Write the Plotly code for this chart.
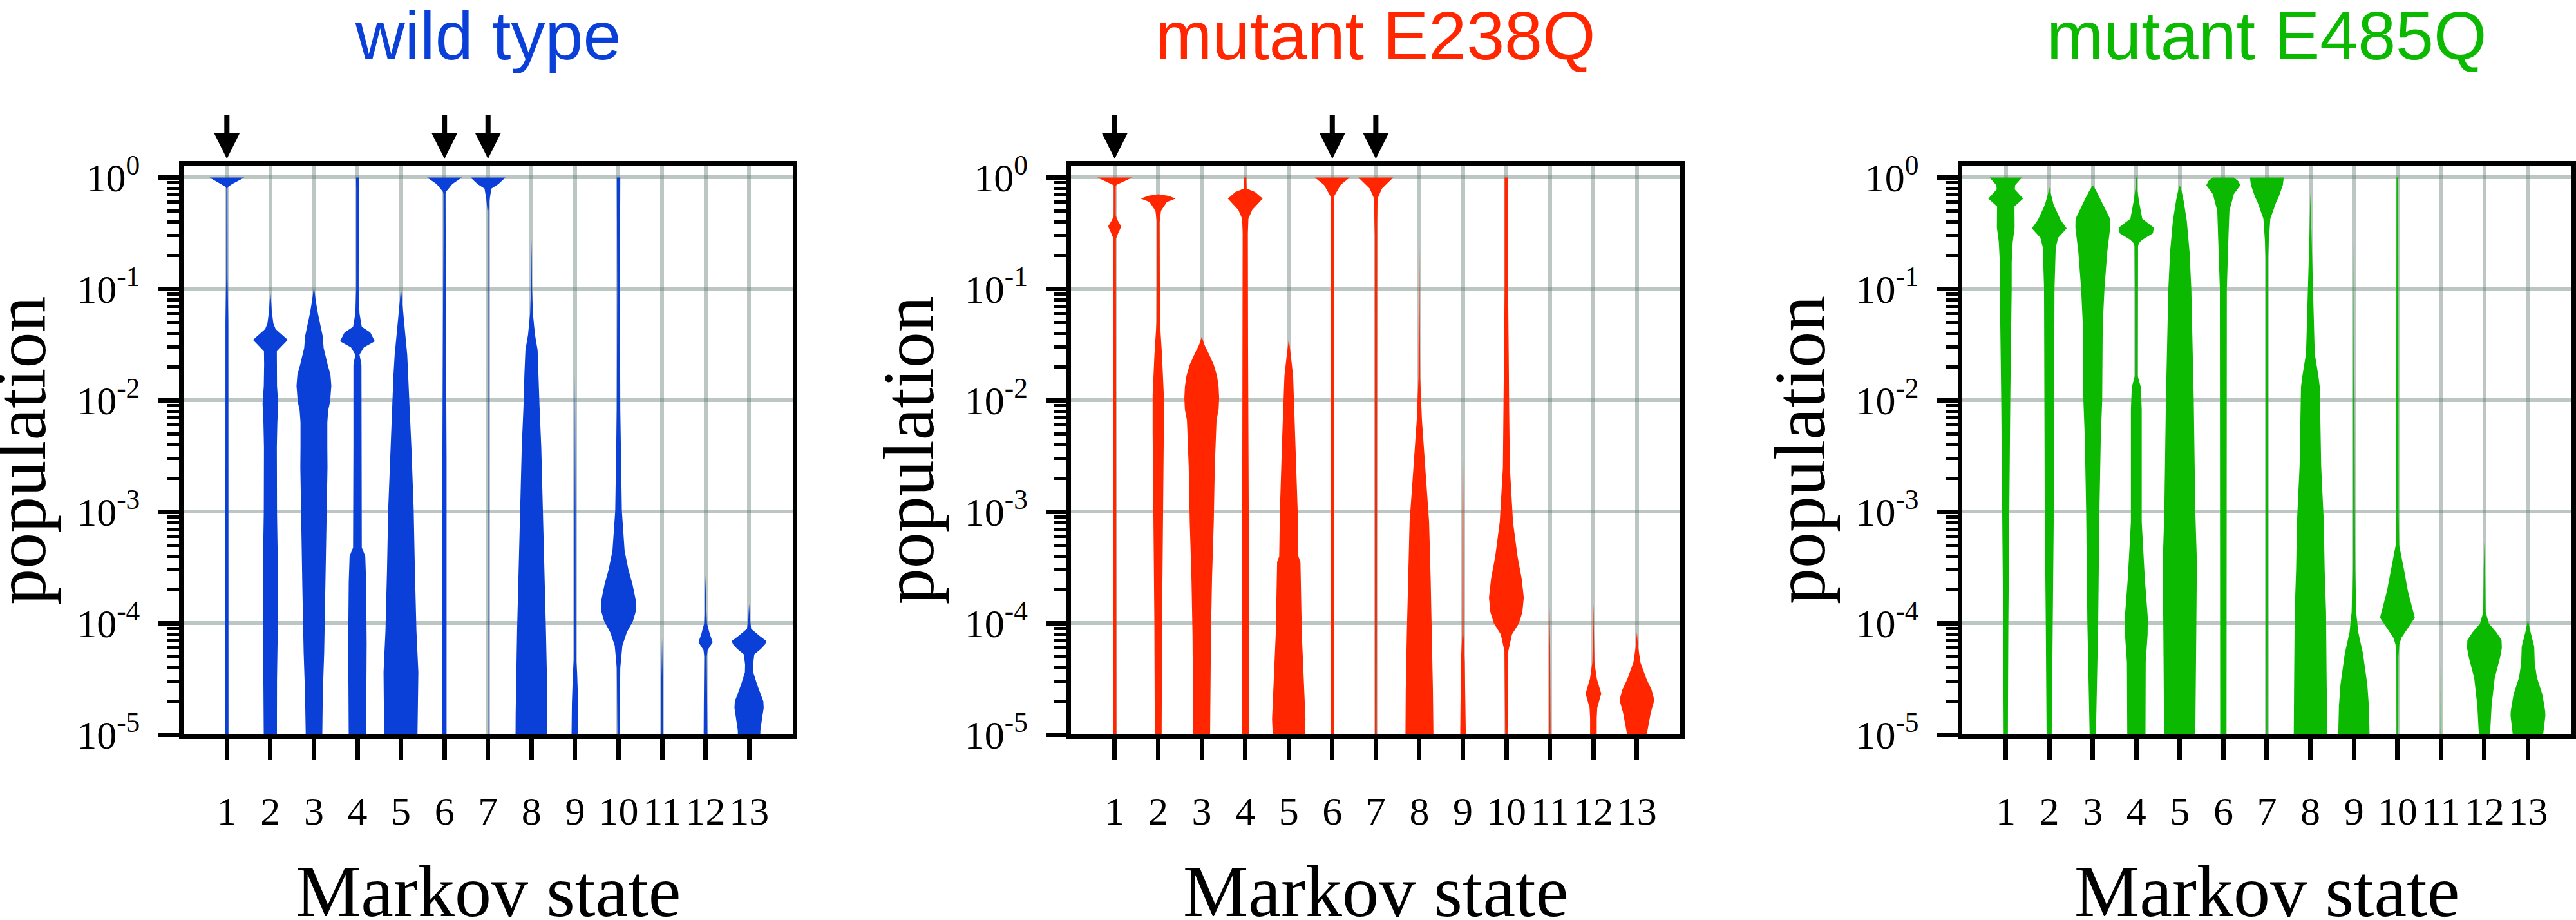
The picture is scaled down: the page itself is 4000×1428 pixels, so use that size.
import plotly.graph_objects as go

# ---------------- data ----------------
states = list(range(1, 14))
state_labels = [str(s) for s in states]
panel_titles = ["wild type", "mutant E238Q", "mutant E485Q"]
panel_colors = ["#0a40d8", "#ff2600", "#0ab900"]
arrow_states = [[1, 6, 7], [1, 6, 7], []]
y_tick_exponents = [0, -1, -2, -3, -4, -5]

# violin outlines:
# each state -> list of (log10 population, relative half-width 0..1), bottom to top
wt_profiles = [
    [(-5.3, 0.09), (-1.3, 0.08), (-0.9, 0.04), (-0.3, 0.03), (-0.1, 0.035), (-0.085, 0.06), (-0.06, 0.3), (-0.03, 0.65), (0, 1.0)],
    [(-5.3, 0.37), (-4.5, 0.38), (-4.1, 0.42), (-3.6, 0.44), (-3.0, 0.38), (-2.42, 0.37), (-2.2, 0.40), (-2.03, 0.45), (-1.87, 0.38), (-1.68, 0.36), (-1.56, 0.37), (-1.457, 1.0), (-1.36, 0.3), (-1.31, 0.17), (-1.2, 0.08), (-1.1, 0.04), (-1.03, 0.0)],
    [(-5.3, 0.46), (-5.0, 0.47), (-4.63, 0.51), (-4.26, 0.59), (-3.71, 0.66), (-3.34, 0.71), (-2.97, 0.74), (-2.6, 0.78), (-2.42, 0.77), (-2.2, 0.77), (-2.09, 0.82), (-2.01, 0.93), (-1.87, 1.0), (-1.77, 0.95), (-1.68, 0.79), (-1.53, 0.56), (-1.42, 0.5), (-1.22, 0.23), (-1.1, 0.1), (-0.98, 0.0)],
    [(-5.3, 0.49), (-4.6, 0.5), (-4.18, 0.53), (-3.63, 0.5), (-3.4, 0.45), (-3.32, 0.25), (-2.4, 0.23), (-1.68, 0.23), (-1.59, 0.12), (-1.525, 0.37), (-1.47, 1.0), (-1.39, 0.74), (-1.34, 0.25), (-1.22, 0.12), (-1.0, 0.07), (-0.1, 0.07), (0, 0.08)],
    [(-5.3, 0.95), (-5.0, 0.95), (-4.44, 1.0), (-4.07, 0.89), (-3.52, 0.8), (-2.97, 0.73), (-2.42, 0.6), (-2.05, 0.5), (-1.77, 0.43), (-1.59, 0.36), (-1.41, 0.25), (-1.22, 0.14), (-1.1, 0.06), (-0.99, 0.0)],
    [(-5.3, 0.12), (-2.5, 0.12), (-1.5, 0.09), (-0.5, 0.06), (-0.15, 0.06), (-0.13, 0.08), (-0.06, 0.45), (0, 1.0)],
    [(-5.3, 0.025), (-0.3, 0.03), (-0.19, 0.1), (-0.1, 0.2), (-0.06, 0.6), (0, 1.0)],
    [(-5.3, 0.93), (-4.81, 0.91), (-4.44, 0.88), (-4.07, 0.83), (-3.52, 0.74), (-2.97, 0.64), (-2.42, 0.56), (-2.05, 0.46), (-1.77, 0.41), (-1.55, 0.35), (-1.41, 0.2), (-1.22, 0.08), (-1.0, 0.03), (-0.54, 0.0)],
    [(-5.3, 0.2), (-5.0, 0.2), (-4.72, 0.18), (-4.44, 0.12), (-4.26, 0.04), (-3.0, 0.03), (-1.75, 0.0)],
    [(-5.3, 0.05), (-4.4, 0.1), (-4.2, 0.22), (-4.08, 0.48), (-3.98, 0.83), (-3.9, 0.98), (-3.8, 1.0), (-3.65, 0.8), (-3.52, 0.57), (-3.35, 0.35), (-2.99, 0.19), (-2.08, 0.1), (-1.0, 0.08), (0, 0.1)],
    [(-5.3, 0.05), (-4.5, 0.04), (-4.13, 0.0)],
    [(-5.3, 0.12), (-4.7, 0.1), (-4.3, 0.07), (-4.24, 0.12), (-4.17, 0.41), (-4.1, 0.25), (-4.0, 0.08), (-3.8, 0.03), (-3.57, 0.0)],
    [(-5.3, 0.6), (-4.96, 0.65), (-4.85, 0.75), (-4.76, 0.84), (-4.7, 0.82), (-4.63, 0.65), (-4.55, 0.46), (-4.44, 0.24), (-4.37, 0.23), (-4.28, 0.3), (-4.23, 0.68), (-4.19, 0.92), (-4.16, 1.0), (-4.11, 0.58), (-4.05, 0.12), (-3.95, 0.04), (-3.82, 0.0)],
]

e238q_profiles = [
    [(-5.3, 0.1), (-1.5, 0.09), (-0.55, 0.07), (-0.5, 0.2), (-0.44, 0.38), (-0.38, 0.15), (-0.34, 0.06), (-0.08, 0.06), (-0.066, 0.1), (-0.03, 0.6), (0, 1.0)],
    [(-5.3, 0.19), (-4.0, 0.22), (-2.3, 0.32), (-1.95, 0.32), (-1.6, 0.22), (-1.3, 0.1), (-0.4, 0.08), (-0.3, 0.16), (-0.22, 0.5), (-0.19, 1.0), (-0.165, 0.6), (-0.15, 0.0)],
    [(-5.3, 0.48), (-5.0, 0.48), (-4.1, 0.53), (-3.6, 0.59), (-3.09, 0.69), (-2.59, 0.75), (-2.18, 0.85), (-2.08, 0.97), (-1.98, 1.0), (-1.88, 0.97), (-1.78, 0.88), (-1.68, 0.69), (-1.58, 0.4), (-1.5, 0.15), (-1.43, 0.0)],
    [(-5.3, 0.2), (-3.0, 0.2), (-1.5, 0.16), (-0.5, 0.15), (-0.37, 0.18), (-0.29, 0.4), (-0.19, 1.0), (-0.13, 0.56), (-0.1, 0.08), (0, 0.06)],
    [(-5.3, 0.92), (-5.0, 0.92), (-4.86, 0.96), (-4.6, 0.88), (-4.1, 0.75), (-3.45, 0.67), (-3.4, 0.55), (-2.99, 0.51), (-2.34, 0.38), (-1.78, 0.25), (-1.6, 0.12), (-1.45, 0.0)],
    [(-5.3, 0.08), (-0.2, 0.08), (-0.17, 0.1), (-0.066, 0.48), (0, 1.0)],
    [(-5.3, 0.05), (-0.52, 0.06), (-0.4, 0.08), (-0.19, 0.1), (-0.1, 0.35), (0, 1.0)],
    [(-5.3, 0.81), (-5.0, 0.81), (-4.6, 0.78), (-4.1, 0.72), (-3.6, 0.65), (-3.09, 0.56), (-2.74, 0.4), (-2.49, 0.3), (-2.18, 0.15), (-1.8, 0.05), (-1.0, 0.03), (-0.54, 0.0)],
    [(-5.3, 0.17), (-5.0, 0.17), (-4.35, 0.11), (-4.1, 0.04), (-3.0, 0.03), (-1.76, 0.0)],
    [(-5.3, 0.05), (-4.25, 0.11), (-4.1, 0.32), (-4.0, 0.72), (-3.9, 0.92), (-3.77, 1.0), (-3.6, 0.88), (-3.4, 0.64), (-3.09, 0.38), (-2.6, 0.2), (-2.08, 0.16), (-1.0, 0.1), (0, 0.1)],
    [(-5.3, 0.05), (-4.7, 0.04), (-4.3, 0.03), (-3.85, 0.0)],
    [(-5.3, 0.19), (-4.85, 0.19), (-4.76, 0.22), (-4.63, 0.45), (-4.5, 0.2), (-4.35, 0.06), (-4.1, 0.03), (-3.82, 0.0)],
    [(-5.3, 0.5), (-5.0, 0.56), (-4.8, 0.8), (-4.69, 1.0), (-4.6, 0.85), (-4.5, 0.55), (-4.35, 0.2), (-4.2, 0.06), (-4.08, 0.0)],
]

e485q_profiles = [
    [(-5.3, 0.12), (-5.0, 0.12), (-4.0, 0.15), (-3.0, 0.2), (-2.0, 0.26), (-1.0, 0.34), (-0.76, 0.34), (-0.58, 0.4), (-0.45, 0.51), (-0.26, 0.5), (-0.19, 1.0), (-0.107, 0.52), (-0.07, 0.54), (0, 0.93)],
    [(-5.3, 0.14), (-5.0, 0.14), (-4.0, 0.2), (-3.0, 0.26), (-2.0, 0.28), (-1.0, 0.3), (-0.63, 0.37), (-0.54, 0.51), (-0.457, 1.0), (-0.38, 0.65), (-0.245, 0.25), (-0.15, 0.08), (-0.09, 0.0)],
    [(-5.3, 0.18), (-5.0, 0.18), (-4.0, 0.31), (-3.0, 0.38), (-2.33, 0.46), (-2.0, 0.54), (-1.33, 0.57), (-1.0, 0.67), (-0.67, 0.83), (-0.45, 1.0), (-0.37, 0.99), (-0.19, 0.43), (-0.12, 0.2), (-0.07, 0.0)],
    [(-5.3, 0.52), (-5.0, 0.52), (-4.35, 0.54), (-4.1, 0.65), (-3.95, 0.66), (-3.6, 0.49), (-3.09, 0.31), (-2.08, 0.31), (-1.88, 0.26), (-1.78, 0.08), (-1.04, 0.08), (-0.62, 0.1), (-0.59, 0.15), (-0.56, 0.34), (-0.5, 0.96), (-0.45, 1.0), (-0.37, 0.34), (-0.21, 0.15), (-0.1, 0.05), (0, 0.03)],
    [(-5.3, 0.89), (-5.0, 0.89), (-4.0, 0.95), (-3.45, 0.98), (-3.0, 0.89), (-2.0, 0.8), (-1.0, 0.66), (-0.67, 0.56), (-0.39, 0.4), (-0.21, 0.22), (-0.12, 0.1), (-0.07, 0.0)],
    [(-5.3, 0.18), (-1.0, 0.2), (-0.5, 0.3), (-0.3, 0.35), (-0.15, 0.6), (-0.07, 0.98), (-0.03, 0.85), (0, 0.6)],
    [(-5.3, 0.03), (-0.82, 0.05), (-0.57, 0.11), (-0.37, 0.2), (-0.22, 0.54), (-0.17, 0.69), (-0.066, 0.92), (0, 0.97)],
    [(-5.3, 0.97), (-5.0, 0.97), (-4.45, 0.93), (-3.9, 0.9), (-3.52, 0.82), (-3.09, 0.77), (-2.59, 0.62), (-1.88, 0.54), (-1.78, 0.46), (-1.58, 0.25), (-1.0, 0.15), (-0.5, 0.05), (-0.14, 0.0)],
    [(-5.3, 0.9), (-5.0, 0.9), (-4.74, 0.86), (-4.55, 0.77), (-4.27, 0.52), (-4.08, 0.25), (-3.9, 0.13), (-3.52, 0.08), (-3.0, 0.06), (-1.5, 0.03), (-0.37, 0.0)],
    [(-5.3, 0.05), (-4.3, 0.06), (-4.19, 0.11), (-4.13, 0.23), (-3.95, 1.0), (-3.71, 0.6), (-3.52, 0.38), (-3.3, 0.1), (-3.0, 0.07), (0, 0.05)],
    [(-5.3, 0.03), (-4.5, 0.03), (-3.82, 0.0)],
    [(-5.3, 0.32), (-5.0, 0.32), (-4.74, 0.41), (-4.49, 0.59), (-4.3, 0.91), (-4.22, 1.0), (-4.15, 0.98), (-4.08, 0.68), (-4.0, 0.25), (-3.9, 0.07), (-3.5, 0.04), (-3.27, 0.0)],
    [(-5.3, 0.87), (-5.0, 0.87), (-4.83, 1.0), (-4.79, 0.99), (-4.64, 0.83), (-4.49, 0.52), (-4.36, 0.39), (-4.21, 0.36), (-4.08, 0.15), (-3.97, 0.0)],
]

# ---------------- style / layout ----------------
W, H = 4000, 1428
HALF = 0.4                      # max half-width of a violin, in category units
panel_left_px = [285, 1665, 3050]
panel_width_px = 947
plot_top_px, plot_bot_px = 243, 1164.5
GRID = "rgba(95,118,112,0.42)"
SERIF = "Liberation Serif"
SANS = "Liberation Sans"

panels = [wt_profiles, e238q_profiles, e485q_profiles]

fig = go.Figure()

ydom = [1 - plot_bot_px / H, 1 - plot_top_px / H]
major_vals = [10.0 ** e for e in y_tick_exponents]
major_text = [f"10<sup>{e}</sup>" for e in y_tick_exponents]
minor_vals = [k * 10.0 ** e for e in range(-5, 0) for k in range(2, 10)]

annotations = []
layout_axes = {}
for p, profiles in enumerate(panels):
    sfx = "" if p == 0 else str(p + 1)
    xa, ya = "x" + sfx, "y" + sfx
    color = panel_colors[p]
    for s, prof in zip(states, profiles):
        logs = [pt[0] for pt in prof]
        ws = [pt[1] for pt in prof]
        xr = [s + HALF * w for w in ws]
        xl = [s - HALF * w for w in ws]
        xs = xr + xl[::-1]
        ys = [10.0 ** v for v in logs] + [10.0 ** v for v in logs[::-1]]
        fig.add_trace(go.Scatter(
            x=xs, y=ys, mode="lines", fill="toself", fillcolor=color,
            line=dict(width=0, color=color), xaxis=xa, yaxis=ya,
            showlegend=False, hoverinfo="skip"))

    x0 = panel_left_px[p] / W
    x1 = (panel_left_px[p] + panel_width_px) / W
    layout_axes["xaxis" + sfx] = dict(
        domain=[x0, x1], anchor=ya, range=[0, 14],
        tickmode="array", tickvals=states, ticktext=state_labels,
        ticks="outside", ticklen=32, tickwidth=7, tickcolor="black",
        showline=True, linewidth=7, linecolor="black", mirror=True,
        showgrid=True, gridcolor=GRID, gridwidth=6, zeroline=False,
        tickfont=dict(family=SERIF, size=62, color="black"),
        ticklabelstandoff=26, fixedrange=True)
    layout_axes["yaxis" + sfx] = dict(
        domain=ydom, anchor=xa, type="log", range=[-5, 0.107],
        tickmode="array", tickvals=major_vals, ticktext=major_text,
        ticks="outside", ticklen=32, tickwidth=7, tickcolor="black",
        minor=dict(tickmode="array", tickvals=minor_vals, ticks="outside",
                   ticklen=19, tickwidth=5, tickcolor="black", showgrid=False),
        showline=True, linewidth=7, linecolor="black", mirror=True,
        showgrid=True, gridcolor=GRID, gridwidth=6, zeroline=False,
        tickfont=dict(family=SERIF, size=62, color="black"),
        ticklabelstandoff=16, fixedrange=True)

    cx = (x0 + x1) / 2
    # panel title
    annotations.append(dict(
        text=panel_titles[p], x=cx, y=1 - 96 / H, xref="paper", yref="paper",
        xanchor="center", yanchor="bottom", showarrow=False,
        font=dict(family=SANS, size=106, color=color)))
    # x axis title
    annotations.append(dict(
        text="Markov state", x=cx, y=1 - 1486 / H, xref="paper", yref="paper",
        xanchor="center", yanchor="bottom", showarrow=False,
        font=dict(family=SERIF, size=114, color="black")))
    # y axis title
    annotations.append(dict(
        text="population", x=(panel_left_px[p] - 253) / W, y=(ydom[0] + ydom[1]) / 2,
        xref="paper", yref="paper", xanchor="center", yanchor="middle",
        textangle=-90, showarrow=False,
        font=dict(family=SERIF, size=112, color="black")))
    # arrows marking states
    for s in arrow_states[p]:
        annotations.append(dict(
            text="", x=s, y=1 - 232 / H, xref=xa, yref="paper",
            ax=0, ay=-69, axref="pixel", ayref="pixel", showarrow=True,
            arrowhead=2, arrowsize=1, arrowwidth=8, arrowcolor="black", standoff=0))

fig.update_layout(
    width=W, height=H, margin=dict(l=0, r=0, t=0, b=0),
    paper_bgcolor="white", plot_bgcolor="white",
    showlegend=False, annotations=annotations, **layout_axes)

fig.write_html("out.html")
